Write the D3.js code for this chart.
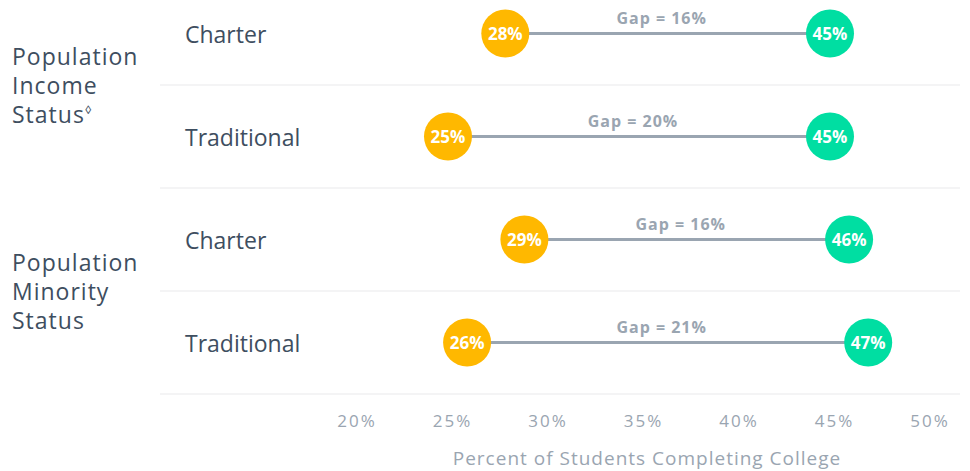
<!DOCTYPE html>
<html>
<head>
<meta charset="utf-8">
<script src="https://cdn.jsdelivr.net/npm/d3@7/dist/d3.min.js"></script>
<style>
  body { margin: 0; background: #fff; }
  svg { display: block; font-family: "Open Sans", sans-serif; }
</style>
</head>
<body>
<svg width="970" height="471"></svg>
<script>
// chart data
var groupLabels = [["Population", "Income", "Status"], ["Population", "Minority", "Status"]];
var groupMarks = ["\u25CA", ""];
var rowLabels = ["Charter", "Traditional", "Charter", "Traditional"];
var lowValues = [28, 25, 29, 26];
var highValues = [45, 45, 46, 47];
var gapValues = [16, 20, 16, 21];
var tickValues = [20, 25, 30, 35, 40, 45, 50];
var axisTitle = "Percent of Students Completing College";

var svg = d3.select("svg"),
    textColor = "#3e4e60",
    grey = "#9aa5b1",
    low = "#ffb800",
    high = "#00dea2";

var rows = rowLabels.map(function(d, i) {
  return {label: d, low: lowValues[i], high: highValues[i], gap: gapValues[i], i: i};
});

var xScale = d3.scaleLinear().domain([20, 50]).range([352.5, 925.5]),
    yScale = d3.scaleBand().domain(d3.range(rows.length)).range([-18, 394]);

var cy = function(d) { return yScale(d.i) + yScale.bandwidth() / 2; };

// separators
svg.selectAll(".sep")
  .data(rows)
  .enter().append("line")
    .attr("class", "sep")
    .attr("x1", 160)
    .attr("x2", 960)
    .attr("y1", function(d) { return yScale(d.i) + yScale.bandwidth(); })
    .attr("y2", function(d) { return yScale(d.i) + yScale.bandwidth(); })
    .attr("stroke", "#f0f1f2")
    .attr("stroke-width", 1.5);

// group labels
var gl = svg.selectAll(".group")
  .data(groupLabels)
  .enter().append("text")
    .attr("class", "group")
    .attr("x", 12)
    .attr("y", function(d, i) { return yScale(i * 2) + yScale.bandwidth() - 20; })
    .attr("fill", textColor)
    .style("font-size", "23px")
    .style("letter-spacing", "1px");

gl.each(function(lines, gi) {
  var t = d3.select(this);
  lines.forEach(function(line, li) {
    t.append("tspan")
      .attr("x", 12)
      .attr("dy", li === 0 ? 0 : 29)
      .text(line);
  });
  if (groupMarks[gi]) {
    t.append("tspan")
      .attr("dy", -9)
      .style("font-size", "12px")
      .text(groupMarks[gi]);
  }
});

// row labels
svg.selectAll(".row-label")
  .data(rows)
  .enter().append("text")
    .attr("class", "row-label")
    .attr("x", 185)
    .attr("y", function(d) { return cy(d) + 9; })
    .attr("fill", textColor)
    .style("font-size", "23px")
    .text(function(d) { return d.label; });

// connecting lines
svg.selectAll(".gap-line")
  .data(rows)
  .enter().append("line")
    .attr("class", "gap-line")
    .attr("x1", function(d) { return xScale(d.low); })
    .attr("x2", function(d) { return xScale(d.high); })
    .attr("y1", cy)
    .attr("y2", cy)
    .attr("stroke", grey)
    .attr("stroke-width", 3);

svg.selectAll(".gap-label")
  .data(rows)
  .enter().append("text")
    .attr("class", "gap-label")
    .attr("x", function(d) { return (xScale(d.low) + xScale(d.high)) / 2 - 6; })
    .attr("y", function(d) { return cy(d) - 10; })
    .attr("text-anchor", "middle")
    .attr("fill", grey)
    .attr("font-weight", "bold")
    .style("font-size", "16px")
    .style("letter-spacing", "1px")
    .text(function(d) { return "Gap = " + d.gap + "%"; });

// dots
["low", "high"].forEach(function(key) {
  svg.selectAll(".dot-" + key)
    .data(rows)
    .enter().append("circle")
      .attr("class", "dot-" + key)
      .attr("cx", function(d) { return xScale(d[key]); })
      .attr("cy", cy)
      .attr("r", 24)
      .attr("fill", key === "low" ? low : high);

  svg.selectAll(".dot-label-" + key)
    .data(rows)
    .enter().append("text")
      .attr("class", "dot-label-" + key)
      .attr("x", function(d) { return xScale(d[key]); })
      .attr("y", function(d) { return cy(d) + 6; })
      .attr("text-anchor", "middle")
      .attr("fill", "#fff")
      .attr("font-weight", "bold")
      .style("font-size", "17px")
      .text(function(d) { return d[key] + "%"; });
});

// x axis
var axis = svg.append("g")
    .attr("class", "axis x-axis")
    .attr("transform", "translate(0,412)")
    .call(d3.axisBottom(xScale).tickValues(tickValues).tickSize(0)
      .tickFormat(function(d) { return d + "%"; }));

axis.select(".domain").remove();
axis.selectAll(".tick text")
    .attr("dx", 4)
    .attr("fill", grey)
    .style("font-family", "'Open Sans', sans-serif")
    .style("font-size", "17px")
    .style("letter-spacing", "2px");

svg.append("text")
    .attr("x", 647)
    .attr("y", 465)
    .attr("text-anchor", "middle")
    .attr("fill", grey)
    .style("font-size", "19px")
    .style("letter-spacing", "1px")
    .text(axisTitle);
</script>
</body>
</html>
